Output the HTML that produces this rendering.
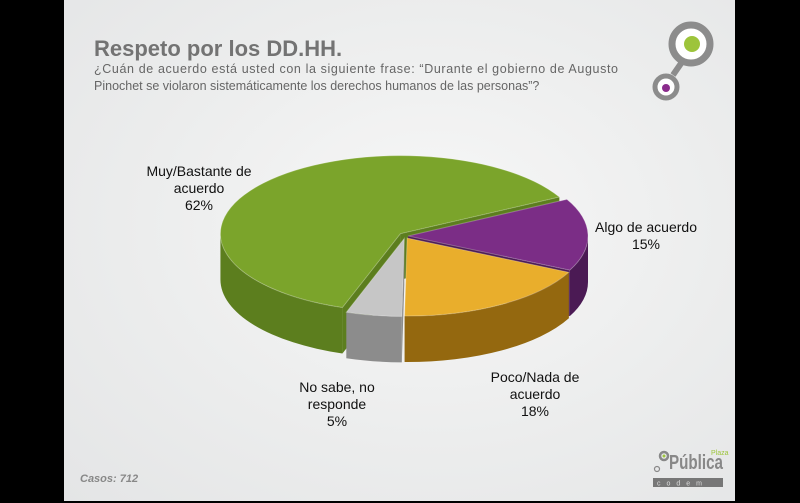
<!DOCTYPE html>
<html><head><meta charset="utf-8"><style>
body{margin:0;background:#000;width:800px;height:503px;overflow:hidden;font-family:"Liberation Sans",sans-serif}
#slide{position:absolute;left:64px;top:0;width:671px;height:501px;background:radial-gradient(ellipse at 55% 45%,#f7f7f7 0%,#eceded 55%,#e4e5e6 100%)}
svg{position:absolute;left:0;top:0}
</style></head><body>
<div id="slide"></div>
<svg id="chart" width="800" height="503">
<text x="94" y="56" font-size="22" font-weight="bold" fill="#737373">Respeto por los DD.HH.</text>
<text x="94" y="73" font-size="12.5" fill="#666" textLength="524">¿Cuán de acuerdo está usted con la siguiente frase: “Durante el gobierno de Augusto</text>
<text x="94" y="90" font-size="12.5" fill="#666">Pinochet se violaron sistemáticamente los derechos humanos de las personas”?</text>
<g>
<line x1="673" y1="75" x2="682" y2="62" stroke="#8c8c8c" stroke-width="6"/>
<circle cx="691" cy="44" r="19" fill="#fff" stroke="#8c8c8c" stroke-width="7"/>
<circle cx="692" cy="44" r="8" fill="#9dc43b"/>
<circle cx="666" cy="87" r="11" fill="#fff" stroke="#8c8c8c" stroke-width="5"/>
<circle cx="666" cy="88" r="4" fill="#8a2b8c"/>
</g>
<text x="80" y="482" font-size="11" font-style="italic" font-weight="bold" fill="#888">Casos: 712</text>
<g>
<circle cx="664" cy="456" r="4" fill="none" stroke="#888" stroke-width="2.5"/>
<circle cx="664" cy="456" r="1.5" fill="#9dc43b"/>
<circle cx="657" cy="469" r="2.5" fill="none" stroke="#888" stroke-width="1.2"/>
<text x="669" y="469" font-size="20" font-weight="bold" fill="#888" textLength="54" lengthAdjust="spacingAndGlyphs">Pública</text>
<text x="711" y="455" font-size="7" fill="#9dc43b">Plaza</text>
<rect x="653" y="478" width="70" height="9" fill="#777"/>
<text x="657" y="485.5" font-size="7" fill="#ddd" letter-spacing="6">codem</text>
</g>
</svg>
<script>
const categories=["Muy/Bastante de acuerdo","Algo de acuerdo","Poco/Nada de acuerdo","No sabe, no responde"];
const values=[62,15,18,5];
const pctLabels=["62%","15%","18%","5%"];
const svg=document.getElementById('chart');
const NS='http://www.w3.org/2000/svg';
const cx=405,cy=236,rx=180,ry=78,depth=46,startDeg=-28;
const tops=["#7ba42b","#7b2d86","#e9ae2c","#c6c6c6"];
const sides=["#5c7e1e","#4b1a54","#94680f","#8c8c8c"];
const total=values.reduce((a,b)=>a+b,0);
const order=[1,2,3,0];
const ang={};let a=startDeg;
order.forEach(i=>{const s=a;a+=values[i]/total*360;ang[i]=[s,a];});
const explode=[6,3,4,4];
function pt(t,ox,oy){const r=t*Math.PI/180;return [cx+ox+rx*Math.cos(r),cy+oy+ry*Math.sin(r)];}
function mk(tag,attrs,name){const e=document.createElementNS(NS,tag);for(const k in attrs)e.setAttribute(k,attrs[k]);


svg.appendChild(e);return e;}
const drawOrder=[0,1,2,3];
drawOrder.forEach(i=>{
 const [s,e]=ang[i];const mid=(s+e)/2*Math.PI/180;
 const ox=explode[i]*Math.cos(mid),oy=explode[i]*0.6*Math.sin(mid);
 const c=[cx+ox,cy+oy];
 const cs=Math.cos(s*Math.PI/180),ce=Math.cos(e*Math.PI/180);
 const faces=[];if(cs<0)faces.push(s);if(ce>0)faces.push(e);
 faces.forEach(t=>{const p=pt(t,ox,oy);
  mk('polygon',{points:`${c[0]},${c[1]} ${p[0]},${p[1]} ${p[0]},${p[1]+depth} ${c[0]},${c[1]+depth}`,fill:sides[i]},'slice-face-'+i);});
 const segs=[];
 for(let k=-360;k<=360;k+=360){const lo=Math.max(s,k),hi=Math.min(e,k+180);if(hi>lo)segs.push([lo,hi]);}
 segs.forEach(([lo,hi])=>{const p1=pt(lo,ox,oy),p2=pt(hi,ox,oy);
  const d=`M${p1[0]},${p1[1]} A${rx},${ry} 0 0 1 ${p2[0]},${p2[1]} L${p2[0]},${p2[1]+depth} A${rx},${ry} 0 0 0 ${p1[0]},${p1[1]+depth} Z`;
  mk('path',{d,fill:sides[i]},'slice-side-'+i);});
 const p1=pt(s,ox,oy),p2=pt(e,ox,oy);const large=(e-s)>180?1:0;
 mk('path',{d:`M${c[0]},${c[1]} L${p1[0]},${p1[1]} A${rx},${ry} 0 ${large} 1 ${p2[0]},${p2[1]} Z`,fill:tops[i],stroke:'rgba(255,255,255,0.25)','stroke-width':1},'slice-top-'+i);
});
const labelPos=[[199,176],[646,232],[535,382],[337,392]];
const labelLines=[["Muy/Bastante de","acuerdo"],["Algo de acuerdo"],["Poco/Nada de","acuerdo"],["No sabe, no","responde"]];
labelLines.forEach((lines,i)=>{const [x,y]=labelPos[i];
 const all=lines.concat([pctLabels[i]]);
 all.forEach((l,j)=>{const t=mk('text',{x,y:y+j*17,'font-size':14,'text-anchor':'middle',fill:'#111'},'label-'+i+'-'+j);t.textContent=l;});
});
</script>
</body></html>
